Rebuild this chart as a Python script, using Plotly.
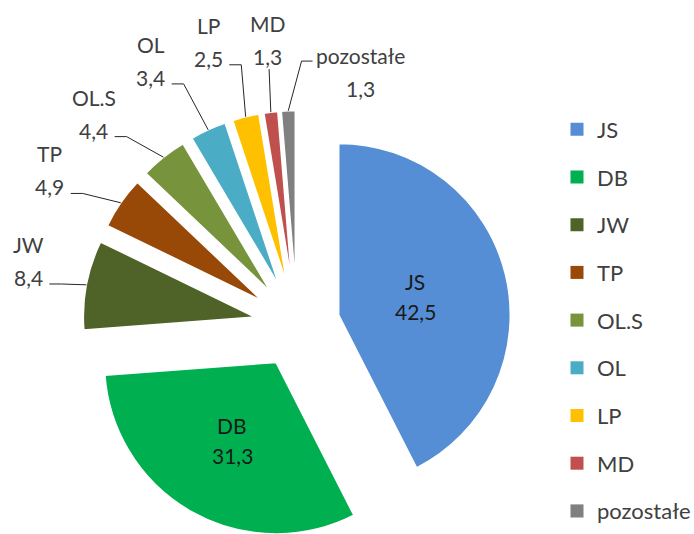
import math
import plotly.graph_objects as go

# ---- data ----
categories = ["JS", "DB", "JW", "TP", "OL.S", "OL", "LP", "MD", "pozostałe"]
values = [42.5, 31.3, 8.4, 4.9, 4.4, 3.4, 2.5, 1.3, 1.3]
colors = ["#558ED5", "#00B050", "#4F6228", "#984807", "#77933C",
          "#4BACC6", "#FFC000", "#C0504D", "#808080"]

# ---- layout constants ----
W, H = 694, 540          # figure slightly taller than the 534 window: bottom of the pie is cropped as in the original
PULL = 0.25
DOM_X = [0.119, 0.737]
DOM_Y = [0.0, 0.7963]
FONT = "Lato"
LABEL_COLOR = "#404040"
LINE_GAP = 33

# label placement for outside labels: (angle deg clockwise from top, distance in radii, leader mode)
outside_place = {
    "JW": (283.4, 1.61, "right"),
    "TP": (302.0, 1.70, "right"),
    "OL.S": (316.1, 1.71, "right"),
    "OL": (331.0, 1.76, "right"),
    "LP": (342.6, 1.73, "right"),
    "MD": (354.0, 1.67, "bottom"),
    "pozostałe": (14.1, 1.52, "left"),
}
inside_frac = {"JS": 0.46, "DB": 0.52}

# ---- geometry (same as plotly's pie scaling with zero margins) ----
box_w = W * (DOM_X[1] - DOM_X[0])
box_h = H * (DOM_Y[1] - DOM_Y[0])
r = min(box_w, box_h) / 2 / (1 + PULL)
cx = W * (DOM_X[0] + DOM_X[1]) / 2
cy = H * (1 - DOM_Y[0]) - box_h / 2


def direction(deg):
    a = math.radians(deg)
    return math.sin(a), -math.cos(a)


def to_paper(px, py):
    return px / W, 1 - py / H


def fmt(v):
    return f"{v:.1f}".replace(".", ",")


total = sum(values)
mids = []
acc = 0
for v in values:
    mids.append((acc + v / 2) / total * 360)
    acc += v

fig = go.Figure()
fig.add_trace(go.Pie(
    labels=categories, values=values, sort=False, direction="clockwise",
    rotation=0, pull=[PULL] * len(values), textinfo="none",
    marker=dict(colors=colors, line=dict(color="white", width=1.5)),
    domain=dict(x=DOM_X, y=DOM_Y), showlegend=False,
))

annotations = []
shapes = []
for name, v, mid in zip(categories, values, mids):
    dx, dy = direction(mid)
    if name in outside_place:
        ang, dist, mode = outside_place[name]
        ldx, ldy = direction(ang)
        lx, ly = cx + dist * r * ldx, cy + dist * r * ldy
        for txt, yy in ((name, ly - LINE_GAP / 2), (fmt(v), ly + LINE_GAP / 2)):
            xp, yp = to_paper(lx, yy)
            annotations.append(dict(x=xp, y=yp, xref="paper", yref="paper", text=txt,
                                    showarrow=False, xanchor="center", yanchor="middle",
                                    font=dict(family=FONT, size=21, color=LABEL_COLOR)))
        ex, ey = cx + (1 + PULL) * r * dx, cy + (1 + PULL) * r * dy
        if mode == "right":
            ax, ay = lx + 21, ly + 23
            pts = [(ax, ay), (ax + 12, ay), (ex, ey)]
        elif mode == "bottom":
            ax, ay = lx + 2, ly + 29
            pts = [(ax, ay), (ex, ey)]
        else:
            ax, ay = lx - 48, ly - 11
            pts = [(ax, ay), (ax - 11, ay), (ex, ey)]
        path = "M " + " L ".join(f"{to_paper(px, py)[0]:.5f},{to_paper(px, py)[1]:.5f}" for px, py in pts)
        shapes.append(dict(type="path", path=path, xref="paper", yref="paper",
                           line=dict(color="#262626", width=1)))
    else:
        tx, ty = cx + PULL * r * dx, cy + PULL * r * dy
        f = inside_frac[name]
        lx, ly = tx + f * r * dx, ty + f * r * dy
        for txt, yy in ((name, ly - 15), (fmt(v), ly + 15)):
            xp, yp = to_paper(lx, yy)
            annotations.append(dict(x=xp, y=yp, xref="paper", yref="paper", text=txt,
                                    showarrow=False, xanchor="center", yanchor="middle",
                                    font=dict(family=FONT, size=21, color="#1a1a1a")))

# legend entries (one per category, separate groups to control spacing)
for name, c in zip(categories, colors):
    fig.add_trace(go.Scatter(x=[None], y=[None], mode="markers", name=name,
                             legendgroup=name, hoverinfo="skip",
                             marker=dict(symbol="square", size=13, color=c)))

fig.update_layout(
    width=W, height=H, margin=dict(l=0, r=0, t=0, b=0, autoexpand=False),
    paper_bgcolor="white", plot_bgcolor="white",
    xaxis=dict(visible=False), yaxis=dict(visible=False),
    annotations=annotations, shapes=shapes,
    legend=dict(x=to_paper(557, 0)[0], y=to_paper(0, 108.5)[1], xanchor="left", yanchor="top",
                font=dict(family=FONT, size=22, color=LABEL_COLOR),
                tracegroupgap=16.1, bgcolor="rgba(0,0,0,0)"),
    showlegend=True,
)

fig.write_html("out.html", config={"displayModeBar": False},
               post_script="document.body.style.margin='0';document.body.style.overflow='hidden';")
